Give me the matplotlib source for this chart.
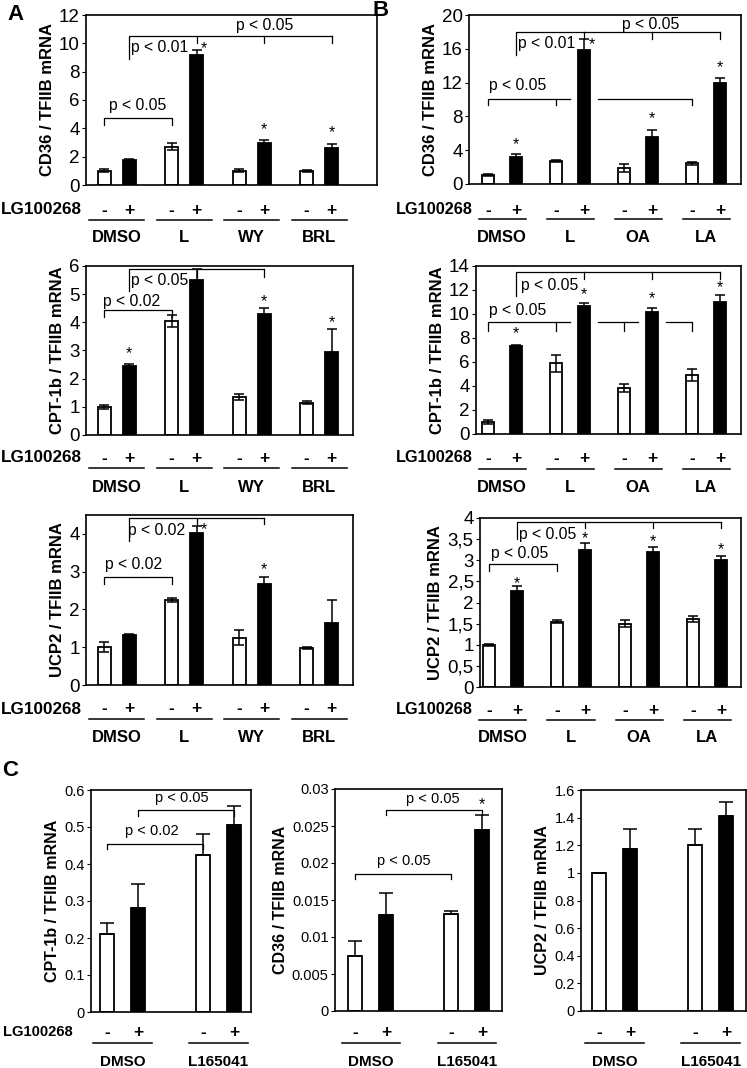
import numpy as np
import matplotlib
matplotlib.use("Agg")
import matplotlib.pyplot as plt
import matplotlib.transforms as mtransforms

plt.rcParams['font.family'] = ['Liberation Sans', 'DejaVu Sans']

# --- data ---
groups_a = ["DMSO", "L", "WY", "BRL"]
groups_b = ["DMSO", "L", "OA", "LA"]
groups_c = ["DMSO", "L165041"]

# order: group1 -, group1 +, group2 -, ...
a_cd36 = [1.0, 1.8, 2.7, 9.15, 1.02, 3.0, 1.0, 2.62]
a_cd36_err = [0.1, 0.07, 0.25, 0.4, 0.1, 0.2, 0.05, 0.3]
a_cpt = [1.0, 2.45, 4.05, 5.5, 1.35, 4.3, 1.15, 2.95]
a_cpt_err = [0.08, 0.07, 0.22, 0.4, 0.1, 0.22, 0.05, 0.8]
a_ucp2 = [1.0, 1.32, 2.25, 4.02, 1.25, 2.68, 0.97, 1.65]
a_ucp2_err = [0.13, 0.02, 0.04, 0.2, 0.2, 0.17, 0.03, 0.6]

b_cd36 = [1.05, 3.2, 2.7, 15.8, 1.9, 5.6, 2.45, 12.0]
b_cd36_err = [0.1, 0.3, 0.15, 1.4, 0.45, 0.8, 0.2, 0.6]
b_cpt = [1.0, 7.35, 5.9, 10.7, 3.85, 10.2, 4.95, 11.0]
b_cpt_err = [0.15, 0.1, 0.7, 0.25, 0.35, 0.3, 0.5, 0.6]
b_ucp2 = [1.0, 2.28, 1.55, 3.25, 1.5, 3.2, 1.6, 3.0]
b_ucp2_err = [0.02, 0.1, 0.03, 0.15, 0.08, 0.12, 0.07, 0.1]
b_ucp2_ticks = [0, 0.5, 1, 1.5, 2, 2.5, 3, 3.5, 4]
b_ucp2_ticklabels = ["0", "0,5", "1", "1,5", "2", "2,5", "3", "3,5", "4"]

c_cpt = [0.21, 0.28, 0.425, 0.505]
c_cpt_err = [0.03, 0.065, 0.055, 0.052]
c_cd36 = [0.0075, 0.013, 0.0131, 0.0245]
c_cd36_err = [0.002, 0.003, 0.0004, 0.002]
c_ucp2 = [1.0, 1.17, 1.2, 1.41]
c_ucp2_err = [0.0, 0.15, 0.12, 0.1]

W, H = 747, 1068
fig = plt.figure(figsize=(W / 100, H / 100), dpi=100)


def add_ax(l, t, r, b):
    return fig.add_axes([l / W, 1 - b / H, (r - l) / W, (b - t) / H])


def positions(n, gap):
    return [g * gap + k for g in range(n) for k in (0, 1)]


def draw_panel(ax, x, vals, errs, width, ylim, yticks, ylabel, both=True,
               capsize=3.5, tick_fs=13.5, label_fs=12):
    cols = ['white' if i % 2 == 0 else 'black' for i in range(len(vals))]
    ax.bar(x, vals, width, color=cols, edgecolor='black', linewidth=1.3, zorder=2)
    yerr = errs if both else [np.zeros(len(errs)), errs]
    ax.errorbar(x, vals, yerr=yerr, fmt='none', ecolor='black', elinewidth=1.1,
                capsize=capsize, capthick=1.1, zorder=3)
    ax.set_ylim(*ylim)
    ax.set_yticks(yticks)
    ax.set_xticks([])
    ax.tick_params(axis='y', direction='out', length=3, labelsize=tick_fs, pad=1.5)
    for s in ax.spines.values():
        s.set_linewidth(1.2)
    ax.set_ylabel(ylabel, fontsize=label_fs, fontweight='bold', labelpad=3)


def treat_labels(ax, x, groups, y_sign, y_line, y_group, hw, lg_right=None,
                 lg_fs=12, grp_fs=12):
    tr = mtransforms.blended_transform_factory(ax.transData, fig.transFigure)
    for i, xi in enumerate(x):
        ax.text(xi, 1 - y_sign / H, '-' if i % 2 == 0 else '+', transform=tr,
                ha='center', va='center', fontsize=12.5, fontweight='bold')
    for g, name in enumerate(groups):
        c = (x[2 * g] + x[2 * g + 1]) / 2
        ax.plot([c - hw, c + hw], [1 - y_line / H] * 2, transform=tr,
                color='black', lw=1.1, clip_on=False)
        ax.text(c, 1 - y_group / H, name, transform=tr, ha='center',
                va='center', fontsize=grp_fs, fontweight='bold')
    if lg_right is not None:
        fig.text(lg_right / W, 1 - y_sign / H, 'LG100268', ha='right',
                 va='center', fontsize=lg_fs, fontweight='bold')


def line(ax, xs, ys):
    ax.plot(xs, ys, color='black', lw=0.9, zorder=4)


def simple(ax, x1, x2, y, leg):
    line(ax, [x1, x1, x2, x2], [y - leg, y, y, y - leg])


def comb(ax, x, start, ticks, y, y_start, leg):
    line(ax, [x[start], x[start], x[ticks[-1]]], [y_start, y, y])
    for t in ticks:
        line(ax, [x[t], x[t]], [y, y - leg])


def ptext(ax, xc, y, s, fs=11.3):
    ax.text(xc, y, s, ha='center', va='center', fontsize=fs, zorder=5)


def star(ax, xc, y):
    ax.text(xc, y, '*', ha='center', va='center', fontsize=11.5, zorder=5)


# ---------------- panel A ----------------
xa = positions(4, 2.7)
wa = 0.52

ax = add_ax(86, 15, 377, 185)
draw_panel(ax, xa, a_cd36, a_cd36_err, wa, (0, 12), range(0, 13, 2),
           'CD36 / TFIIB mRNA')
ax.set_xlim(-0.72, 10.92)
simple(ax, xa[0], xa[2], 4.7, 0.45)
comb(ax, xa, 1, [3, 5, 7], 10.5, 8.9, 0.45)
ptext(ax, 1.35, 5.6, 'p < 0.05')
ptext(ax, 2.24, 9.7, 'p < 0.01')
ptext(ax, 6.44, 11.25, 'p < 0.05')
star(ax, xa[3] + 0.28, 9.6)
star(ax, xa[5], 3.9)
star(ax, xa[7], 3.7)
treat_labels(ax, xa, groups_a, 210, 220, 237, 1.1, lg_right=82, lg_fs=12.3)

ax = add_ax(86, 266, 353, 435)
draw_panel(ax, xa, a_cpt, a_cpt_err, wa, (0, 6), range(0, 7),
           'CPT-1b / TFIIB mRNA')
ax.set_xlim(-0.72, 9.96)
simple(ax, xa[0], xa[2], 4.45, 0.25)
comb(ax, xa, 1, [3, 5], 5.9, 5.1, 0.3)
ptext(ax, 1.12, 4.75, 'p < 0.02')
ptext(ax, 2.22, 5.5, 'p < 0.05')
star(ax, xa[1], 2.9)
star(ax, xa[5], 4.75)
star(ax, xa[7], 4.0)
treat_labels(ax, xa, groups_a, 458, 468, 487, 1.1, lg_right=82, lg_fs=12.3)

ax = add_ax(86, 515, 353, 685)
draw_panel(ax, xa, a_ucp2, a_ucp2_err, wa, (0, 4.5), range(0, 5),
           'UCP2 / TFIIB mRNA')
ax.set_xlim(-0.72, 9.96)
simple(ax, xa[0], xa[2], 2.85, 0.17)
comb(ax, xa, 1, [3, 5], 4.42, 3.8, 0.17)
ptext(ax, 1.18, 3.2, 'p < 0.02')
ptext(ax, 2.1, 4.1, 'p < 0.02')
star(ax, xa[3] + 0.28, 4.1)
star(ax, xa[5], 3.05)
treat_labels(ax, xa, groups_a, 709, 719, 738, 1.1, lg_right=82, lg_fs=12.3)

# ---------------- panel B ----------------
xb = positions(4, 2.43)
wb = 0.45

ax = add_ax(469, 15, 741, 184)
draw_panel(ax, xb, b_cd36, b_cd36_err, wb, (0, 20), range(0, 21, 4),
           'CD36 / TFIIB mRNA')
ax.set_xlim(-0.68, 9.04)
line(ax, [xb[0], xb[0], xb[2] + 0.5], [9.3, 10, 10])
line(ax, [xb[2], xb[2]], [10, 9.3])
line(ax, [xb[3] + 0.5, xb[6], xb[6]], [10, 10, 9.3])
comb(ax, xb, 1, [3, 5, 7], 17.95, 15.3, 0.75)
ptext(ax, 1.07, 11.6, 'p < 0.05')
ptext(ax, 2.1, 16.6, 'p < 0.01')
ptext(ax, 5.82, 18.9, 'p < 0.05')
star(ax, xb[1], 4.6)
star(ax, xb[3] + 0.28, 16.5)
star(ax, xb[5], 7.7)
star(ax, xb[7], 13.8)
treat_labels(ax, xb, groups_b, 210, 219, 237, 0.84, lg_right=473, lg_fs=11.7)

ax = add_ax(476, 266, 741, 434)
draw_panel(ax, xb, b_cpt, b_cpt_err, wb, (0, 14), range(0, 15, 2),
           'CPT-1b / TFIIB mRNA')
ax.set_xlim(-0.43, 9.04)
line(ax, [xb[0], xb[0], xb[2] + 0.5], [8.6, 9.3, 9.3])
line(ax, [xb[2], xb[2]], [9.3, 8.6])
line(ax, [xb[3] + 0.5, xb[4] + 0.5], [9.3, 9.3])
line(ax, [xb[4], xb[4]], [9.3, 8.6])
line(ax, [xb[5] + 0.5, xb[6], xb[6]], [9.3, 9.3, 8.6])
comb(ax, xb, 1, [3, 5, 7], 13.5, 11.5, 0.6)
ptext(ax, 1.07, 10.3, 'p < 0.05')
ptext(ax, 2.2, 12.4, 'p < 0.05')
star(ax, xb[1], 8.4)
star(ax, xb[3], 11.6)
star(ax, xb[5], 11.3)
star(ax, xb[7], 12.2)
treat_labels(ax, xb, groups_b, 458, 469, 487, 0.84, lg_right=473, lg_fs=11.7)

ax = add_ax(480, 518, 741, 687)
draw_panel(ax, xb, b_ucp2, b_ucp2_err, wb, (0, 4), b_ucp2_ticks,
           'UCP2 / TFIIB mRNA')
ax.set_yticklabels(b_ucp2_ticklabels)
ax.set_xlim(-0.32, 9.0)
simple(ax, xb[0], xb[2], 2.9, 0.15)
comb(ax, xb, 1, [3, 5, 7], 3.9, 3.5, 0.13)
ptext(ax, 1.1, 3.15, 'p < 0.05')
ptext(ax, 2.1, 3.62, 'p < 0.05')
star(ax, xb[1], 2.45)
star(ax, xb[3], 3.5)
star(ax, xb[5], 3.43)
star(ax, xb[7], 3.25)
treat_labels(ax, xb, groups_b, 710, 720, 738, 0.84, lg_right=473, lg_fs=11.7)

# ---------------- panel C ----------------
xc = positions(2, 3.1)
wc = 0.45

ax = add_ax(91, 790, 251, 1012)
draw_panel(ax, xc, c_cpt, c_cpt_err, wc, (0, 0.6), np.arange(0, 0.61, 0.1),
           'CPT-1b / TFIIB mRNA', both=False, capsize=5, tick_fs=10.5,
           label_fs=11.5)
ax.set_yticklabels(['0', '0.1', '0.2', '0.3', '0.4', '0.5', '0.6'])
ax.set_xlim(-0.52, 4.65)
simple(ax, xc[0], xc[2], 0.455, 0.015)
simple(ax, xc[1], xc[3], 0.545, 0.015)
ptext(ax, 1.45, 0.49, 'p < 0.02', fs=10.5)
ptext(ax, 2.42, 0.578, 'p < 0.05', fs=10.5)
treat_labels(ax, xc, groups_c, 1032, 1043, 1062, 0.94, lg_right=73,
             lg_fs=10.6, grp_fs=11)

ax = add_ax(335, 789, 502, 1011)
draw_panel(ax, xc, c_cd36, c_cd36_err, wc, (0, 0.03), np.arange(0, 0.0301, 0.005),
           'CD36 / TFIIB mRNA', both=False, capsize=5, tick_fs=10.5,
           label_fs=11.5)
ax.set_yticklabels(['0', '0.005', '0.01', '0.015', '0.02', '0.025', '0.03'])
ax.set_xlim(-0.65, 4.74)
simple(ax, xc[0], xc[2], 0.0185, 0.0007)
simple(ax, xc[1], xc[3], 0.0272, 0.0007)
ptext(ax, 1.58, 0.0203, 'p < 0.05', fs=10.5)
ptext(ax, 2.52, 0.0287, 'p < 0.05', fs=10.5)
star(ax, xc[3], 0.0279)
treat_labels(ax, xc, groups_c, 1032, 1043, 1062, 0.94, grp_fs=11)

ax = add_ax(581, 790, 746, 1011)
draw_panel(ax, xc, c_ucp2, c_ucp2_err, wc, (0, 1.6), np.arange(0, 1.61, 0.2),
           'UCP2 / TFIIB mRNA', both=False, capsize=5, tick_fs=10.5,
           label_fs=11.5)
ax.set_yticklabels(['0', '0.2', '0.4', '0.6', '0.8', '1', '1.2', '1.4', '1.6'])
ax.set_xlim(-0.58, 4.74)
treat_labels(ax, xc, groups_c, 1032, 1043, 1062, 0.94, grp_fs=11)

# panel letters
fig.text(16 / W, 1 - 14 / H, 'A', ha='center', va='center', fontsize=16, fontweight='bold')
fig.text(381 / W, 1 - 10 / H, 'B', ha='center', va='center', fontsize=16, fontweight='bold')
fig.text(10 / W, 1 - 770 / H, 'C', ha='center', va='center', fontsize=16, fontweight='bold')

fig.savefig('out.png', dpi=100)
